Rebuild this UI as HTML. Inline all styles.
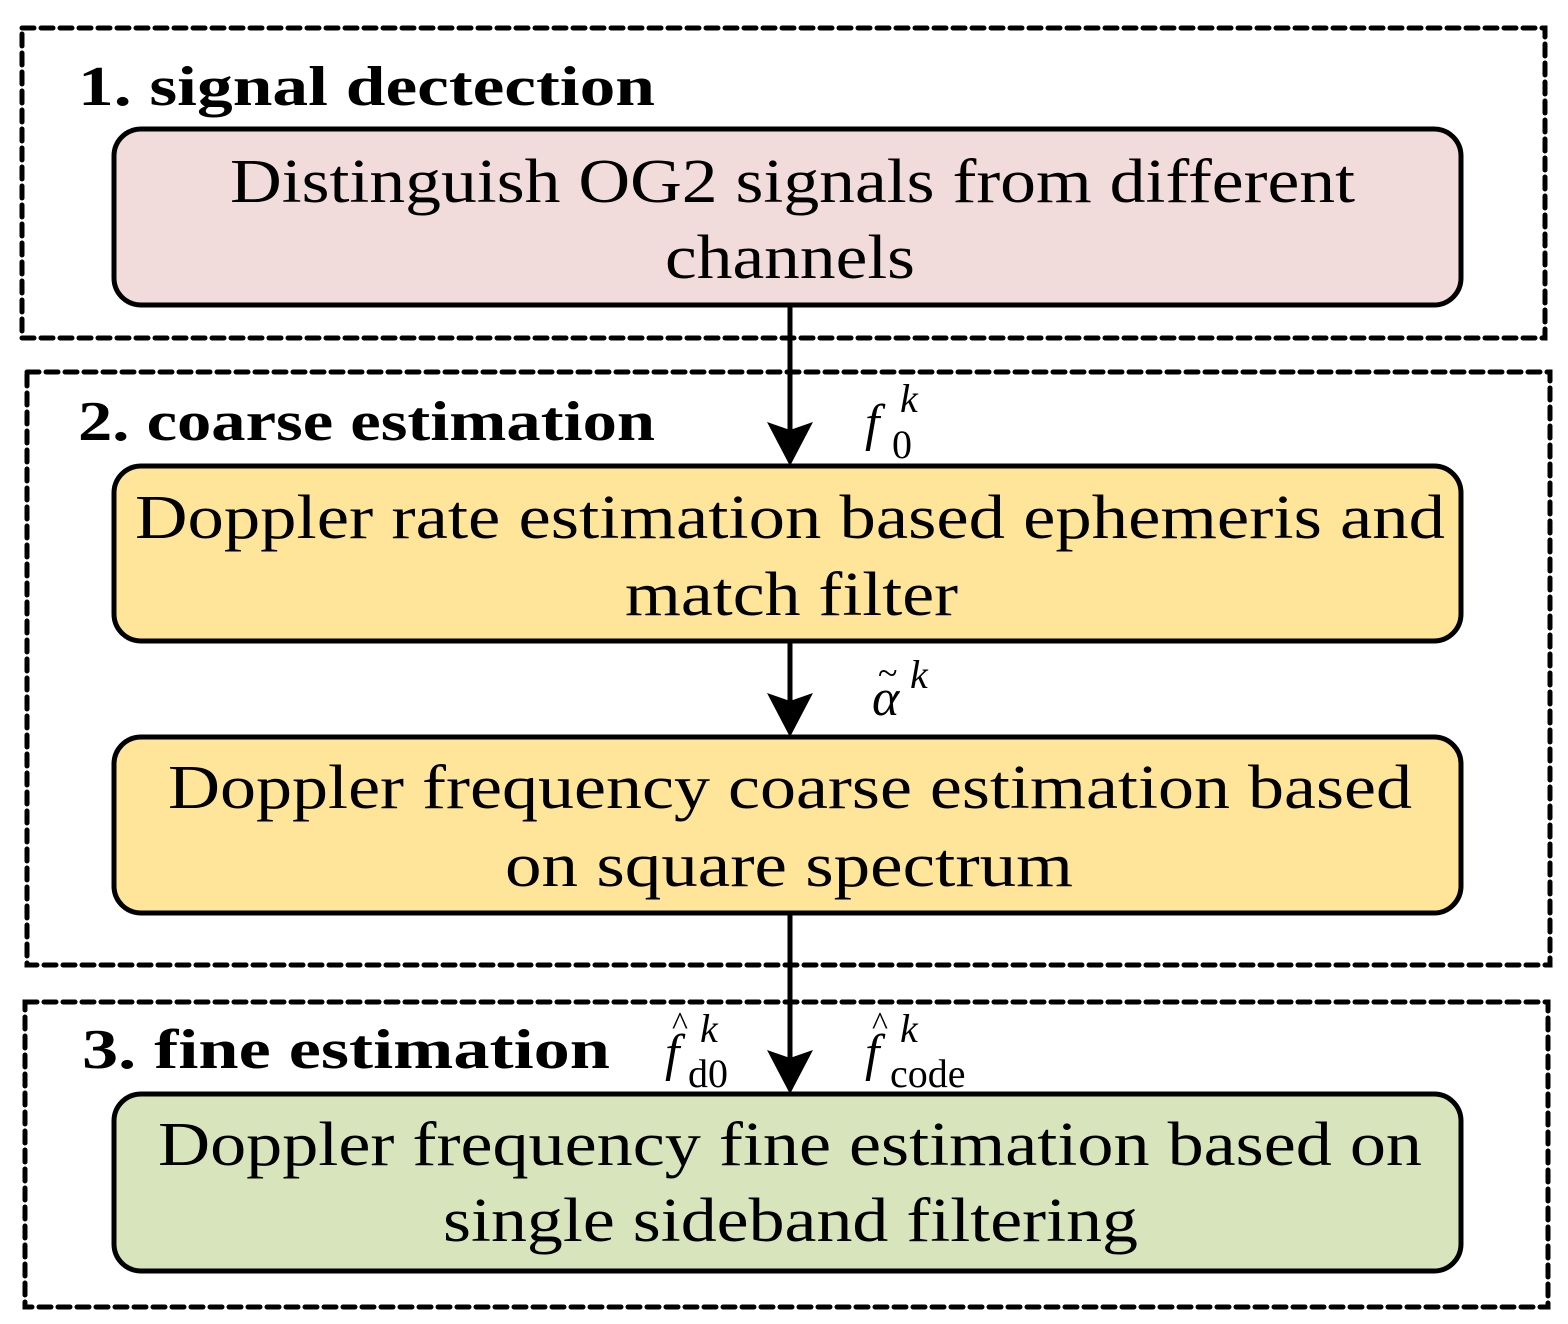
<!DOCTYPE html>
<html><head><meta charset="utf-8"><style>html,body{margin:0;padding:0;background:#fff}svg{display:block}</style></head>
<body>
<svg width="1568" height="1324" viewBox="0 0 1568 1324" xmlns="http://www.w3.org/2000/svg" font-family="Liberation Serif, serif">
<defs>
<path id="ah" d="M-23,-44 L0,0 L23,-44 L0,-36 Z" fill="#000"/>
</defs>
<g fill="none" stroke="#000" stroke-width="5" stroke-dasharray="12 7" stroke-linecap="round">
<rect x="22" y="28" width="1523" height="310"/>
<rect x="27" y="372" width="1523" height="593"/>
<rect x="25" y="1002" width="1523" height="305"/>
</g>
<g stroke="#000" stroke-width="5">
<rect x="114" y="129" width="1347" height="176" rx="27" fill="#f2dcdb"/>
<rect x="114" y="466" width="1347" height="175" rx="27" fill="#fee599"/>
<rect x="114" y="737" width="1347" height="176" rx="27" fill="#fee599"/>
<rect x="114" y="1094" width="1347" height="177" rx="27" fill="#d8e4bc"/>
<line x1="790" y1="305" x2="790" y2="440"/>
<line x1="790" y1="641" x2="790" y2="712"/>
<line x1="790" y1="913" x2="790" y2="1068"/>
</g>
<use href="#ah" x="790" y="466"/>
<use href="#ah" x="790" y="737"/>
<use href="#ah" x="790" y="1094"/>
<g font-weight="bold" font-size="56" fill="#000">
<text x="78" y="105" textLength="577" lengthAdjust="spacingAndGlyphs">1.  signal dectection</text>
<text x="78" y="440" textLength="577" lengthAdjust="spacingAndGlyphs">2. coarse estimation</text>
<text x="82" y="1068" textLength="528" lengthAdjust="spacingAndGlyphs">3.  fine estimation</text>
</g>
<g font-size="62" fill="#000">
<text x="230" y="202" textLength="1125" lengthAdjust="spacingAndGlyphs">Distinguish OG2 signals from different</text>
<text x="665" y="278" textLength="250" lengthAdjust="spacingAndGlyphs">channels</text>
<text x="135" y="538" textLength="1310" lengthAdjust="spacingAndGlyphs">Doppler rate estimation based ephemeris and</text>
<text x="625" y="615" textLength="333" lengthAdjust="spacingAndGlyphs">match filter</text>
<text x="168" y="808" textLength="1244" lengthAdjust="spacingAndGlyphs">Doppler frequency coarse estimation based</text>
<text x="505" y="886" textLength="568" lengthAdjust="spacingAndGlyphs">on square spectrum</text>
<text x="158" y="1165" textLength="1264" lengthAdjust="spacingAndGlyphs">Doppler frequency fine estimation based on</text>
<text x="443" y="1241" textLength="695" lengthAdjust="spacingAndGlyphs">single sideband filtering</text>
</g>
<g fill="#000">
<text x="865" y="440" font-size="52" font-style="italic">f</text>
<text x="892" y="458" font-size="40">0</text>
<text x="900" y="412" font-size="40" font-style="italic">k</text>
<text x="872" y="715" font-size="52" font-style="italic">α</text>
<text x="878" y="685" font-size="36">~</text>
<text x="910" y="688" font-size="40" font-style="italic">k</text>
<text x="665" y="1070" font-size="52" font-style="italic">f</text>
<text x="672" y="1035" font-size="34">^</text>
<text x="688" y="1087" font-size="40">d0</text>
<text x="700" y="1042" font-size="40" font-style="italic">k</text>
<text x="865" y="1070" font-size="52" font-style="italic">f</text>
<text x="872" y="1035" font-size="34">^</text>
<text x="890" y="1087" font-size="40">code</text>
<text x="900" y="1042" font-size="40" font-style="italic">k</text>
</g>
</svg>
</body></html>
